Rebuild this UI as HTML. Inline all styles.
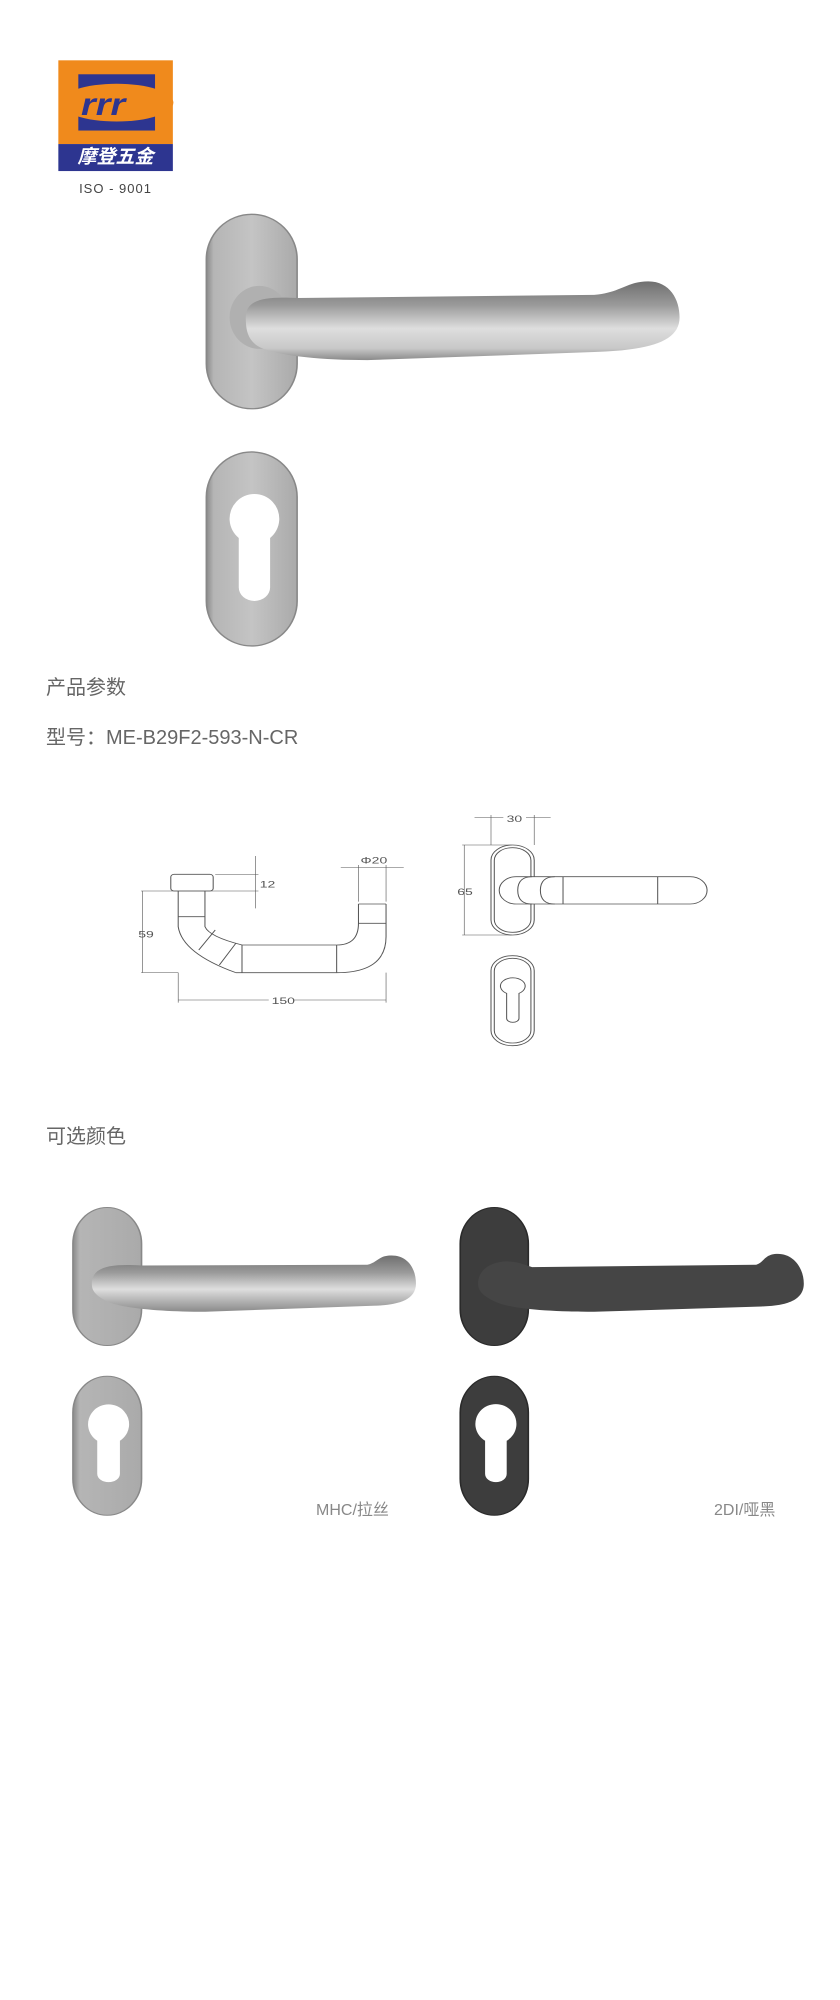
<!DOCTYPE html>
<html><head><meta charset="utf-8"><style>
body{margin:0;background:#fff;width:840px;height:2000px;position:relative;overflow:hidden;font-family:"Liberation Sans","Noto Sans CJK SC",sans-serif;}
.t{position:absolute;white-space:nowrap;color:#555;}
svg{position:absolute;}
</style></head><body>

<svg style="left:0;top:0" width="840" height="700" viewBox="0 0 1555 1555" preserveAspectRatio="none">
<defs>
<linearGradient id="rose" x1="0" y1="0" x2="1" y2="0"><stop offset="0" stop-color="#8a8a8a"/><stop offset=".08" stop-color="#b5b5b5"/><stop offset=".5" stop-color="#c4c4c4"/><stop offset="1" stop-color="#aaa"/></linearGradient>
<linearGradient id="lev" x1="0" y1="0" x2="0" y2="1"><stop offset="0" stop-color="#6f6f6f"/><stop offset=".3" stop-color="#9a9a9a"/><stop offset=".6" stop-color="#dedede"/><stop offset=".85" stop-color="#c8c8c8"/><stop offset="1" stop-color="#8a8a8a"/></linearGradient>
</defs>
<rect x="108" y="134" width="212" height="186" fill="#f08a1c"/>
<rect x="108" y="320" width="212" height="60" fill="#2d3590"/>
<rect x="145" y="165" width="142" height="125" fill="#2d3590"/>
<ellipse cx="216" cy="228" rx="105" ry="42" fill="#f08a1c"/>
<text x="150" y="255" font-size="70" font-style="italic" font-weight="bold" fill="#2d3590" font-family="Liberation Sans">rrr</text>
<rect x="382" y="476" width="168" height="432" rx="84" ry="100" fill="url(#rose)" stroke="#888" stroke-width="3"/>
<ellipse cx="480" cy="705" rx="55" ry="70" fill="#b0b0b0"/>
<path d="M455 705 C455 665 490 658 550 662 L1100 655 C1150 650 1160 625 1200 625 C1240 625 1258 665 1258 705 C1258 760 1200 778 1100 782 L680 800 C600 800 520 792 482 772 C458 757 455 732 455 705 Z" fill="url(#lev)"/>
<rect x="382" y="1004" width="168" height="431" rx="84" ry="100" fill="url(#rose)" stroke="#888" stroke-width="3"/>
<path d="M442 1195 A46 55 0 1 1 500 1195 L500 1305 A29 30 0 0 1 442 1305 Z" fill="#fff"/>
</svg>
<div class="t" style="left:58px;top:146px;width:115px;text-align:center;color:#fff;font-size:19px;font-weight:bold;font-style:italic;line-height:24px">摩登五金</div>
<div class="t" style="left:58px;top:181px;width:115px;text-align:center;font-size:13px;color:#444;letter-spacing:1px">ISO - 9001</div>

<div class="t" style="left:46px;top:671px;font-size:20px;color:#666">产品参数</div>
<div class="t" style="left:46px;top:721px;font-size:20px;color:#666">型号：ME-B29F2-593-N-CR</div>

<svg style="left:100px;top:780px" width="640" height="280" viewBox="0 0 1555 840" preserveAspectRatio="none" fill="none" stroke="#555" stroke-width="2.5" font-family="Liberation Sans">
<rect x="172" y="283" width="103" height="50" rx="8"/>
<path d="M190 333 L190 440 Q200 520 330 578 M255 333 L255 440 Q265 470 345 495 M190 410 L255 410 M240 510 L280 450 M290 555 L330 490"/>
<path d="M345 495 L575 495 M330 578 L575 578 M345 495 L345 578 M575 495 L575 578"/>
<path d="M575 578 Q695 578 695 470 L695 372 M575 495 Q628 495 628 430 L628 372 M628 372 L695 372 M628 430 L695 430"/>
<g stroke-width="1.5">
<path d="M378 228 L378 385 M280 283 L385 283 M100 333 L385 333 M100 578 L190 578 M103 333 L103 578"/>
<path d="M628 255 L628 365 M695 255 L695 365 M585 262 L738 262"/>
<path d="M190 578 L190 668 M695 578 L695 668 M190 660 L410 660 M470 660 L695 660"/>
<path d="M880 195 L1000 195 M880 465 L1000 465 M885 195 L885 465 M950 105 L950 195 M1055 105 L1055 195 M910 113 L980 113 M1035 113 L1095 113"/>
</g>
<g fill="#555" stroke="none" font-size="34">
<text transform="translate(388,322) scale(1,0.81)">12</text>
<text transform="translate(93,472) scale(1,0.81)">59</text>
<text transform="translate(633,250) scale(1,0.81)">Φ20</text>
<text transform="translate(417,672) scale(1,0.81)">150</text>
<text transform="translate(868,345) scale(1,0.81)">65</text>
<text transform="translate(988,126) scale(1,0.81)">30</text>
</g>
<rect x="950" y="195" width="105" height="270" rx="52" ry="45"/>
<rect x="958" y="203" width="89" height="254" rx="44" ry="38"/>
<rect x="970" y="290" width="505" height="82" rx="41" ry="41" fill="#fff"/>
<path d="M1125 290 L1125 372 M1355 290 L1355 372 M1050 290 Q1015 290 1015 331 Q1015 372 1050 372 M1105 290 Q1070 290 1070 331 Q1070 372 1105 372"/>
<rect x="950" y="527" width="105" height="270" rx="52" ry="45"/>
<rect x="958" y="535" width="89" height="254" rx="44" ry="38"/>
<path d="M988 640 A30 25 0 1 1 1018 640 L1018 715 A15 12 0 0 1 988 715 Z"/>
</svg>

<div class="t" style="left:46px;top:1120px;font-size:20px;color:#666">可选颜色</div>

<svg style="left:0;top:1100px" width="840" height="450" viewBox="0 0 1555 1360" preserveAspectRatio="none">
<defs>
<linearGradient id="r2" x1="0" y1="0" x2="1" y2="0"><stop offset="0" stop-color="#8a8a8a"/><stop offset=".1" stop-color="#b5b5b5"/><stop offset="1" stop-color="#aaa"/></linearGradient>
<linearGradient id="l2" x1="0" y1="0" x2="0" y2="1"><stop offset="0" stop-color="#6f6f6f"/><stop offset=".3" stop-color="#9a9a9a"/><stop offset=".6" stop-color="#dedede"/><stop offset="1" stop-color="#8a8a8a"/></linearGradient>
</defs>
<rect x="135" y="325" width="127" height="417" rx="63" ry="110" fill="url(#r2)" stroke="#888" stroke-width="3"/>
<path d="M170 555 C170 500 210 495 262 500 L680 498 C700 490 700 470 725 470 C755 470 770 510 770 555 C770 610 730 620 690 622 L380 640 C300 640 230 630 200 610 C175 590 170 575 170 555 Z" fill="url(#l2)"/>
<rect x="135" y="835" width="127" height="420" rx="63" ry="110" fill="url(#r2)" stroke="#888" stroke-width="3"/>
<path d="M180 1030 A38 60 0 1 1 222 1030 L222 1130 A21 25 0 0 1 180 1130 Z" fill="#fff"/>
<rect x="852" y="325" width="126" height="417" rx="63" ry="110" fill="#3d3d3d" stroke="#2a2a2a" stroke-width="3"/>
<path d="M885 555 C885 500 925 478 960 492 L985 505 L1400 498 C1415 490 1415 465 1440 465 C1470 465 1488 510 1488 555 C1488 610 1450 622 1410 624 L1100 640 C1020 640 950 632 920 612 C892 592 885 575 885 555 Z" fill="#454545"/>
<rect x="852" y="835" width="126" height="420" rx="63" ry="110" fill="#3d3d3d" stroke="#2a2a2a" stroke-width="3"/>
<path d="M898 1030 A38 60 0 1 1 938 1030 L938 1130 A20 25 0 0 1 898 1130 Z" fill="#fff"/>
</svg>
<div class="t" style="left:316px;top:1496px;font-size:16px;color:#888">MHC/拉丝</div>
<div class="t" style="left:714px;top:1496px;font-size:16px;color:#888">2DI/哑黑</div>
</body></html>
